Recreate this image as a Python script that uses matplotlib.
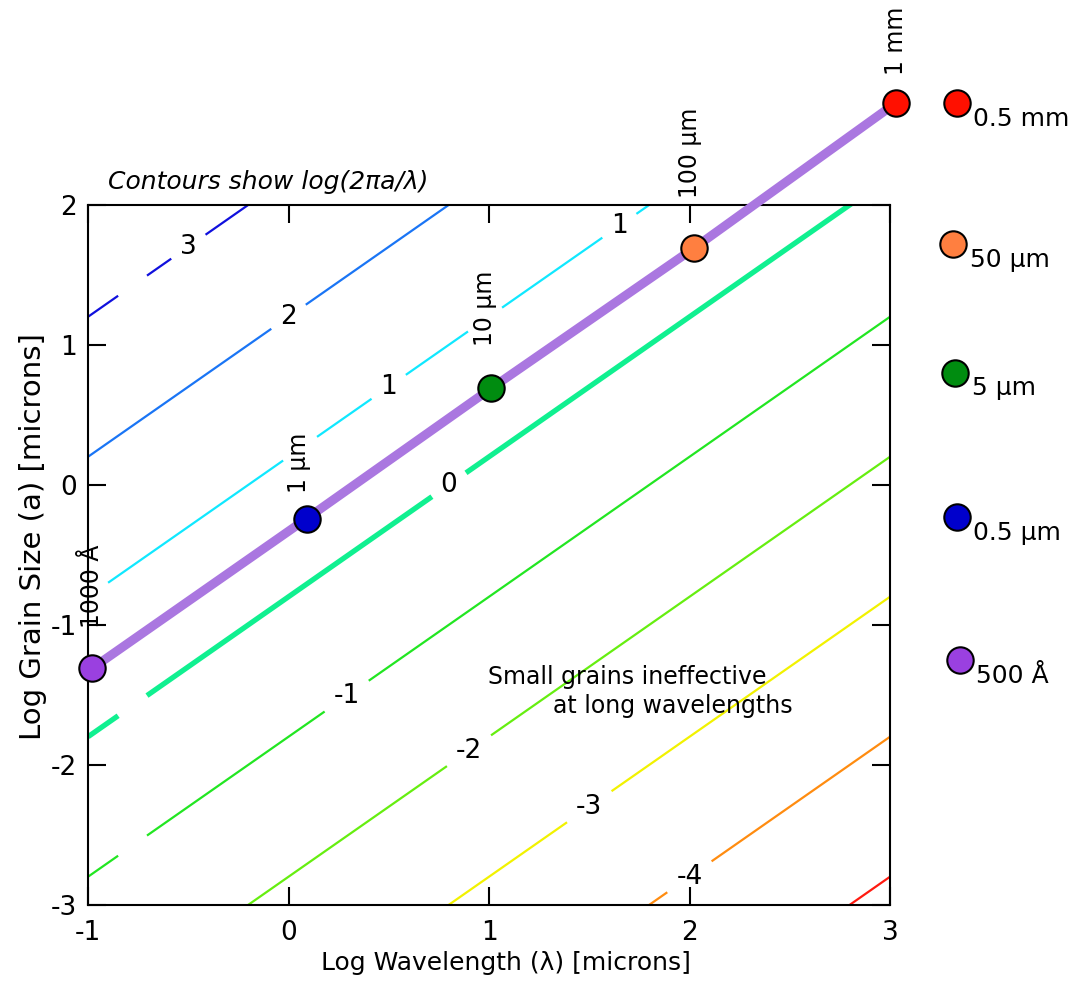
import matplotlib
matplotlib.use("Agg")
import matplotlib.pyplot as plt
import numpy as np

plt.rcParams['axes.unicode_minus'] = False

#%% Data

# contour levels of log(2*pi*a/lambda)
levels = [3, 2, 1, 0, -1, -2, -3, -4, -5]
level_colors = ['#1010dd', '#1a75f5', '#10e8ff', '#10f090', '#22e622',
                '#66ee10', '#f2f200', '#ff8c10', '#ff1a10']

# grain size points on the a = lambda/2 line
pt_lam = [-0.98, 0.09, 1.01, 2.02, 3.03]
pt_a = [-1.31, -0.24, 0.69, 1.69, 2.73]
pt_colors = ['#9a40e0', '#0000cc', '#008c10', '#ff7f40', '#ff1000']
pt_wave_labels = ['1000 Å', '1 µm', '10 µm', '100 µm', '1 mm']
pt_size_labels = ['500 Å', '0.5 µm', '5 µm', '50 µm', '0.5 mm']

xticks = [-1, 0, 1, 2, 3]
yticks = [-3, -2, -1, 0, 1, 2]

#%% Layout bits (label spots on the contours, extra breaks in the lines)

label_spots = [(3, -0.50), (2, 0.0), (1, 0.50), (1, 1.65), (0, 0.80),
               (-1, 0.29), (-2, 0.90), (-3, 1.50), (-4, 2.00)]
extra_gaps = {3: [(-0.85, -0.706)], 0: [(-0.85, -0.706)], -1: [(-0.85, -0.706)],
              1: [(-1.0, -0.90), (-0.027, 0.142), (0.895, 1.065)]}
wave_label_pos = [(-0.98, -1.02), (0.05, -0.06), (0.98, 0.99), (2.0, 2.05), (3.03, 2.93)]

off = np.log10(2 * np.pi)

#%% Figure

fig = plt.figure(figsize=(10.87, 9.81), dpi=100)
ax = fig.add_axes([0.081, 0.0775, 0.7378, 0.7135])

x = np.linspace(-1, 3, 4001)
for lev, col in zip(levels, level_colors):
    y = x + lev - off
    gaps = list(extra_gaps.get(lev, []))
    for l, lx in label_spots:
        if l == lev:
            hw = 0.085 if lev >= 0 else 0.11
            gaps.append((lx - hw, lx + hw))
    y = y.copy()
    for g0, g1 in gaps:
        y[(x > g0) & (x < g1)] = np.nan
    lw = 3.8 if lev == 0 else 1.6
    ax.plot(x, y, color=col, lw=lw, solid_capstyle='butt', zorder=2)

for lev, lx in label_spots:
    ax.text(lx, lx + lev - off, str(lev), ha='center', va='center', fontsize=19, zorder=3)

# a = lambda/2 line with points
ax.plot(pt_lam, pt_a, color='#aa77e0', lw=6.5, zorder=4, clip_on=False)
for lx, ay, c in zip(pt_lam, pt_a, pt_colors):
    ax.plot(lx, ay, 'o', ms=19, mfc=c, mec='black', mew=1.5, zorder=5, clip_on=False)

for (tx, ty), s in zip(wave_label_pos, pt_wave_labels):
    ax.text(tx, ty, s, rotation=90, ha='center', va='bottom', fontsize=17, zorder=6, clip_on=False)

ax.text(0.995, -1.371, 'Small grains ineffective', ha='left', va='center', fontsize=17)
ax.text(1.319, -1.579, 'at long wavelengths', ha='left', va='center', fontsize=17)

ax.text(0.025, 1.033, 'Contours show log(2πa/λ)', transform=ax.transAxes,
        ha='left', va='center', fontsize=18, style='italic')

ax.set_xlim(-1, 3)
ax.set_ylim(-3, 2)
ax.set_xticks(xticks)
ax.set_yticks(yticks)
ax.tick_params(direction='in', length=13, width=1.5, labelsize=19, top=True, right=True)
ax.tick_params(axis='x', pad=11)
ax.tick_params(axis='y', pad=8)
for sp in ax.spines.values():
    sp.set_linewidth(1.5)
ax.set_xlabel('Log Wavelength (λ) [microns]', fontsize=18)
ax.set_ylabel('Log Grain Size (a) [microns]', fontsize=21)
ax.xaxis.set_label_coords(0.521, -0.066)
ax.yaxis.set_label_coords(-0.051, 0.526)

# manual legend on the right
leg_x = [0.883, 0.880, 0.879, 0.877, 0.880]
leg_y = [0.327, 0.473, 0.620, 0.751, 0.895]
for lx, ly, c, s in zip(leg_x, leg_y, pt_colors, pt_size_labels):
    fig.lines.append(plt.Line2D([lx], [ly], transform=fig.transFigure, marker='o', ms=19,
                                mfc=c, mec='black', mew=1.5, ls='none'))
    fig.text(lx + 0.015, ly - 0.016, s, ha='left', va='center', fontsize=18)

plt.savefig('out.png', dpi=100)
